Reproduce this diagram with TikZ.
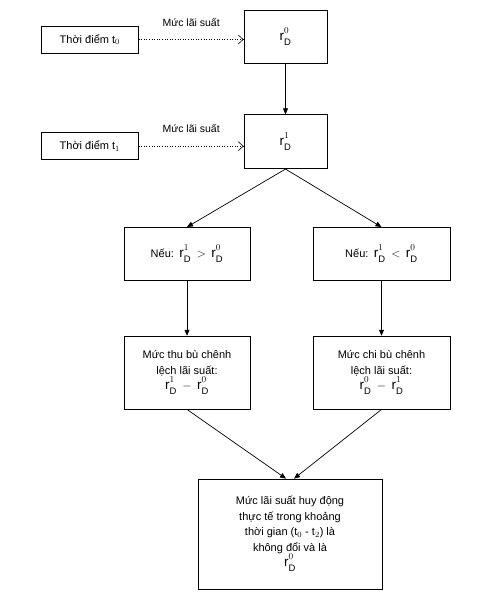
\documentclass[tikz,border=0pt]{standalone}
\usepackage{fontspec}
\setmainfont{Liberation Sans}
\usetikzlibrary{arrows.meta, positioning}
\newcommand{\rD}[1]{{\fontsize{13.5}{15.5}\selectfont
  $\mathrm{r}^{\raisebox{2pt}{$\scriptstyle #1$}}_{\raisebox{-1.5pt}{$\scriptstyle\mathrm{D}$}}$}}
\newcommand{\rel}[1]{{\fontsize{12}{15.5}\selectfont$#1$}}

\begin{document}
\begin{tikzpicture}[
  x=1pt, y=-1pt,
  font=\fontsize{11}{15.5}\selectfont,
  box/.style={draw, line width=0.7pt, align=center, inner sep=2pt},
  timebox/.style={box, minimum width=97pt, minimum height=27pt},
  ratebox/.style={box, minimum width=83pt, minimum height=53pt},
  arr/.style={-{Triangle[length=6pt, width=5pt]}, line width=0.7pt},
  dotarr/.style={-{Straight Barb[length=5pt, width=9pt]}, dotted, line width=0.6pt},
  lbl/.style={font=\fontsize{10.5}{12}\selectfont, inner sep=0pt}]

  \fill[white] (0,0) rectangle (479,601);
  \useasboundingbox (0,0) rectangle (479,601);

  % rate column
  \node[ratebox] (r0) at (285.5,36.5) {\rD{0}};
  \node[ratebox, minimum height=54pt, below=51pt of r0] (r1) {\rD{1}};

  % time points
  \node[timebox, left=105pt of r0, yshift=-3pt] (t0) {Thời điểm t$_0$};
  \node[timebox, left=105pt of r1, yshift=-4.5pt] (t1) {Thời điểm t$_1$};

  % branches
  \node[box, minimum width=126pt, minimum height=53pt, below=58pt of r1, xshift=-98.5pt]
    (higher) {Nếu:\enspace\rD{1}\enspace\rel{>}\enspace\rD{0}};
  \node[box, minimum width=137pt, minimum height=53pt, below=58pt of r1, xshift=96pt]
    (lower) {Nếu:\enspace\rD{1}\enspace\rel{<}\enspace\rD{0}};
  \node[box, minimum width=126pt, minimum height=73pt, below=55pt of higher]
    (collect) {Mức thu bù chênh\\ lệch lãi suất:\\ \rD{1}\enspace\rel{-}\enspace\rD{0}};
  \node[box, minimum width=137pt, minimum height=73pt, below=55pt of lower]
    (pay) {Mức chi bù chênh\\ lệch lãi suất:\\ \rD{0}\enspace\rel{-}\enspace\rD{1}};

  % result
  \node[box, minimum width=184pt, minimum height=110pt] (real) at (290,534)
    {Mức lãi suất huy động\\ thực tế trong khoảng\\ thời gian (t$_0$ - t$_2$) là\\ không đổi và là\\ \rD{0}};

  % flows
  \draw[dotarr] (t0.east) -- node[lbl, above=13pt] {Mức lãi suất} (t0.east -| r0.west);
  \draw[dotarr] (t1.east) -- node[lbl, above=13pt] {Mức lãi suất} (t1.east -| r1.west);
  \draw[arr] (r0) -- (r1);
  \draw[arr] (r1.south) -- (higher.north);
  \draw[arr] (r1.south) -- (lower.north);
  \draw[arr] (higher) -- (collect);
  \draw[arr] (lower) -- (pay);
  \draw[arr] (collect.south) -- ([xshift=-4pt]real.north);
  \draw[arr] (pay.south) -- ([xshift=4pt]real.north);
\end{tikzpicture}
\end{document}
